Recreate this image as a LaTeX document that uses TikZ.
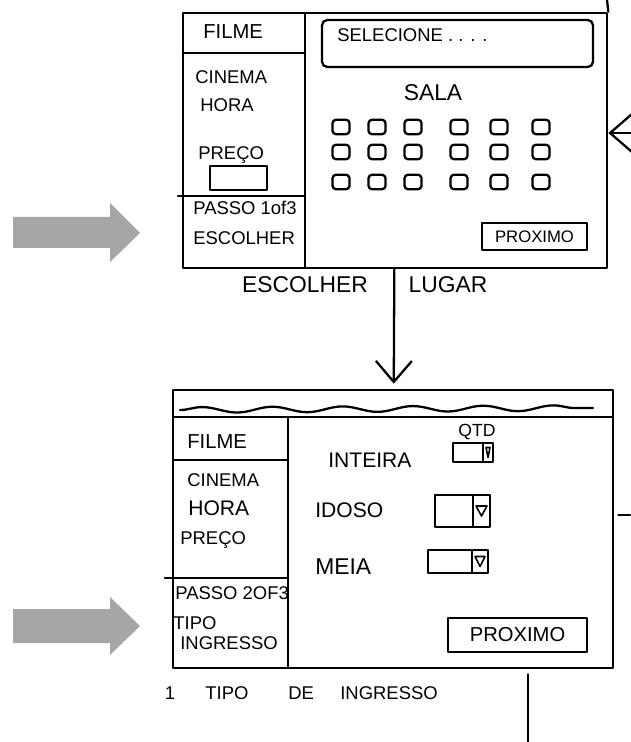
\documentclass[tikz,border=0pt]{standalone}
\usepackage{fontspec}
\setmainfont{Liberation Sans}
\usetikzlibrary{arrows.meta}
\usetikzlibrary{fit}
\usetikzlibrary{decorations.pathmorphing}
\definecolor{setagris}{HTML}{A6A6A6}

\begin{document}
\begin{tikzpicture}[x=0.02cm, y=-0.02cm, line join=round, line cap=round]
	\useasboundingbox (0,0) rectangle (630,742);
	\fill[setagris] (13,217) -- (110,217) -- (110,203) -- (140,233) -- (110,262) -- (110,248) -- (13,248) -- cycle;
	\fill[setagris] (13,609) -- (110,609) -- (110,597) -- (140,626) -- (110,655) -- (110,643) -- (13,643) -- cycle;
	\begin{scope}[every node/.style = {draw, line width=1.5pt, inner sep=0pt}]
		\node[fit={(183,13) (607,268)}] (T1) {};
		\node[fit={(173,390) (613,668)}] (T2) {};
	\end{scope}
	\begin{scope}[line width=1.3pt]
		\draw (305,13) -- (305,268);
		\draw (183,53) -- (305,53);
		\draw (178,196) -- (305,196);
		\draw (210,166) rectangle (267,190);
		\draw[rounded corners=3pt] (322,20) rectangle (593,67);
		\draw (173,417) -- (613,417);
		\draw[decorate, decoration={snake, segment length=40pt, amplitude=1.6pt}] (180,410) -- (593,408);
		\draw (288,417) -- (288,668);
		\draw (173,460) -- (288,460);
		\draw (165,578) -- (288,578);
		\foreach \a/\b/\c/\d/\e in {453/443/493/462/483, 435/495/490/527/473, 428/550/488/573/472} {
			\draw (\a,\b) rectangle (\c,\d);
			\draw (\e,\b) -- (\e,\d);
			\draw[line width=0.9pt] ({\e+3},{(\b+\d)/2-5}) -- ({\c-3},{(\b+\d)/2-5}) -- ({(\e+\c)/2},{(\b+\d)/2+5}) -- cycle;
		}
	\end{scope}
	\begin{scope}[every node/.style = {draw, line width=1.3pt, rounded corners=2pt,
			minimum width=0.34cm, minimum height=0.29cm, inner sep=0pt}]
		\foreach \x in {341,377,413,459,499,541}
			\foreach \y in {127,152,182}
				\node (s\x-\y) at (\x,\y) {};
	\end{scope}
	\begin{scope}[every node/.style = {font=\fontsize{10.5}{12}\selectfont, inner sep=0pt, anchor=west}]
		\node[font=\fontsize{11.5}{13}\selectfont] (f1) at (203,32) {FILME};
		\node (c1) at (195,77) {CINEMA};
		\node (h1) at (200,105) {HORA};
		\node (p1) at (198,155) {PREÇO};
		\node (ps1) at (193,208) {PASSO 1of3};
		\node (e1) at (193,238) {ESCOLHER};
		\node (sel) at (337,35) {SELECIONE . . . .};
		\node[anchor=center, font=\fontsize{13}{15}\selectfont] (sala) at (433,93) {SALA};
		\node[anchor=center, font=\fontsize{13}{15}\selectfont] (esc) at (305,285) {ESCOLHER};
		\node[anchor=center, font=\fontsize{13}{15}\selectfont] (lug) at (448,285) {LUGAR};
		\node[font=\fontsize{11.5}{13}\selectfont] (f2) at (187,442) {FILME};
		\node (c2) at (187,480) {CINEMA};
		\node[font=\fontsize{12}{14}\selectfont] (h2) at (188,508) {HORA};
		\node (p2) at (180,540) {PREÇO};
		\node (ps2) at (175,593) {PASSO 2OF3};
		\node (tp2) at (173,623) {TIPO};
		\node (ing2) at (180,643) {INGRESSO};
		\node[font=\fontsize{12}{14}\selectfont] (int) at (328,460) {INTEIRA};
		\node[anchor=center, font=\fontsize{10}{12}\selectfont] (qtd) at (477,432) {QTD};
		\node[font=\fontsize{12}{14}\selectfont] (ido) at (315,510) {IDOSO};
		\node[font=\fontsize{13}{15}\selectfont] (mei) at (315,567) {MEIA};
		\node[anchor=center] (n1) at (170,693) {1};
		\node (tipo) at (205,693) {TIPO};
		\node (de) at (288,693) {DE};
		\node (ingr) at (340,693) {INGRESSO};
	\end{scope}
	\begin{scope}[every node/.style = {draw, line width=1.3pt, inner sep=0pt}]
		\node[minimum width=2.1cm, minimum height=0.54cm, font=\fontsize{9.5}{11}\selectfont] (prox1) at (534.5,236.5) {PROXIMO};
		\node[minimum width=2.78cm, minimum height=0.68cm, font=\fontsize{11.5}{13}\selectfont] (prox2) at (517.5,635) {PROXIMO};
	\end{scope}
	\coordinate (d0) at (607,0);
	\coordinate (d1) at (660,133);
	\coordinate (d2) at (528,742);
	\coordinate (d3) at (630,515);
	\begin{scope}[>={Straight Barb[length=0.42cm, width=0.72cm]},
			every edge/.style={draw=black, line width=1.3pt}]
		\path [->, shorten >=0.1cm] (T1) edge (T2);
		\path [->, >={Straight Barb[length=0.46cm, width=0.8cm]}] (d1) edge (d1 -| T1.east);
		\path (d0) edge (T1.north east);
		\path [shorten >=0.1cm] (d2) edge (d2 |- T2.south);
		\path [shorten >=0.08cm] (d3) edge (d3 -| T2.east);
	\end{scope}
\end{tikzpicture}
\end{document}
